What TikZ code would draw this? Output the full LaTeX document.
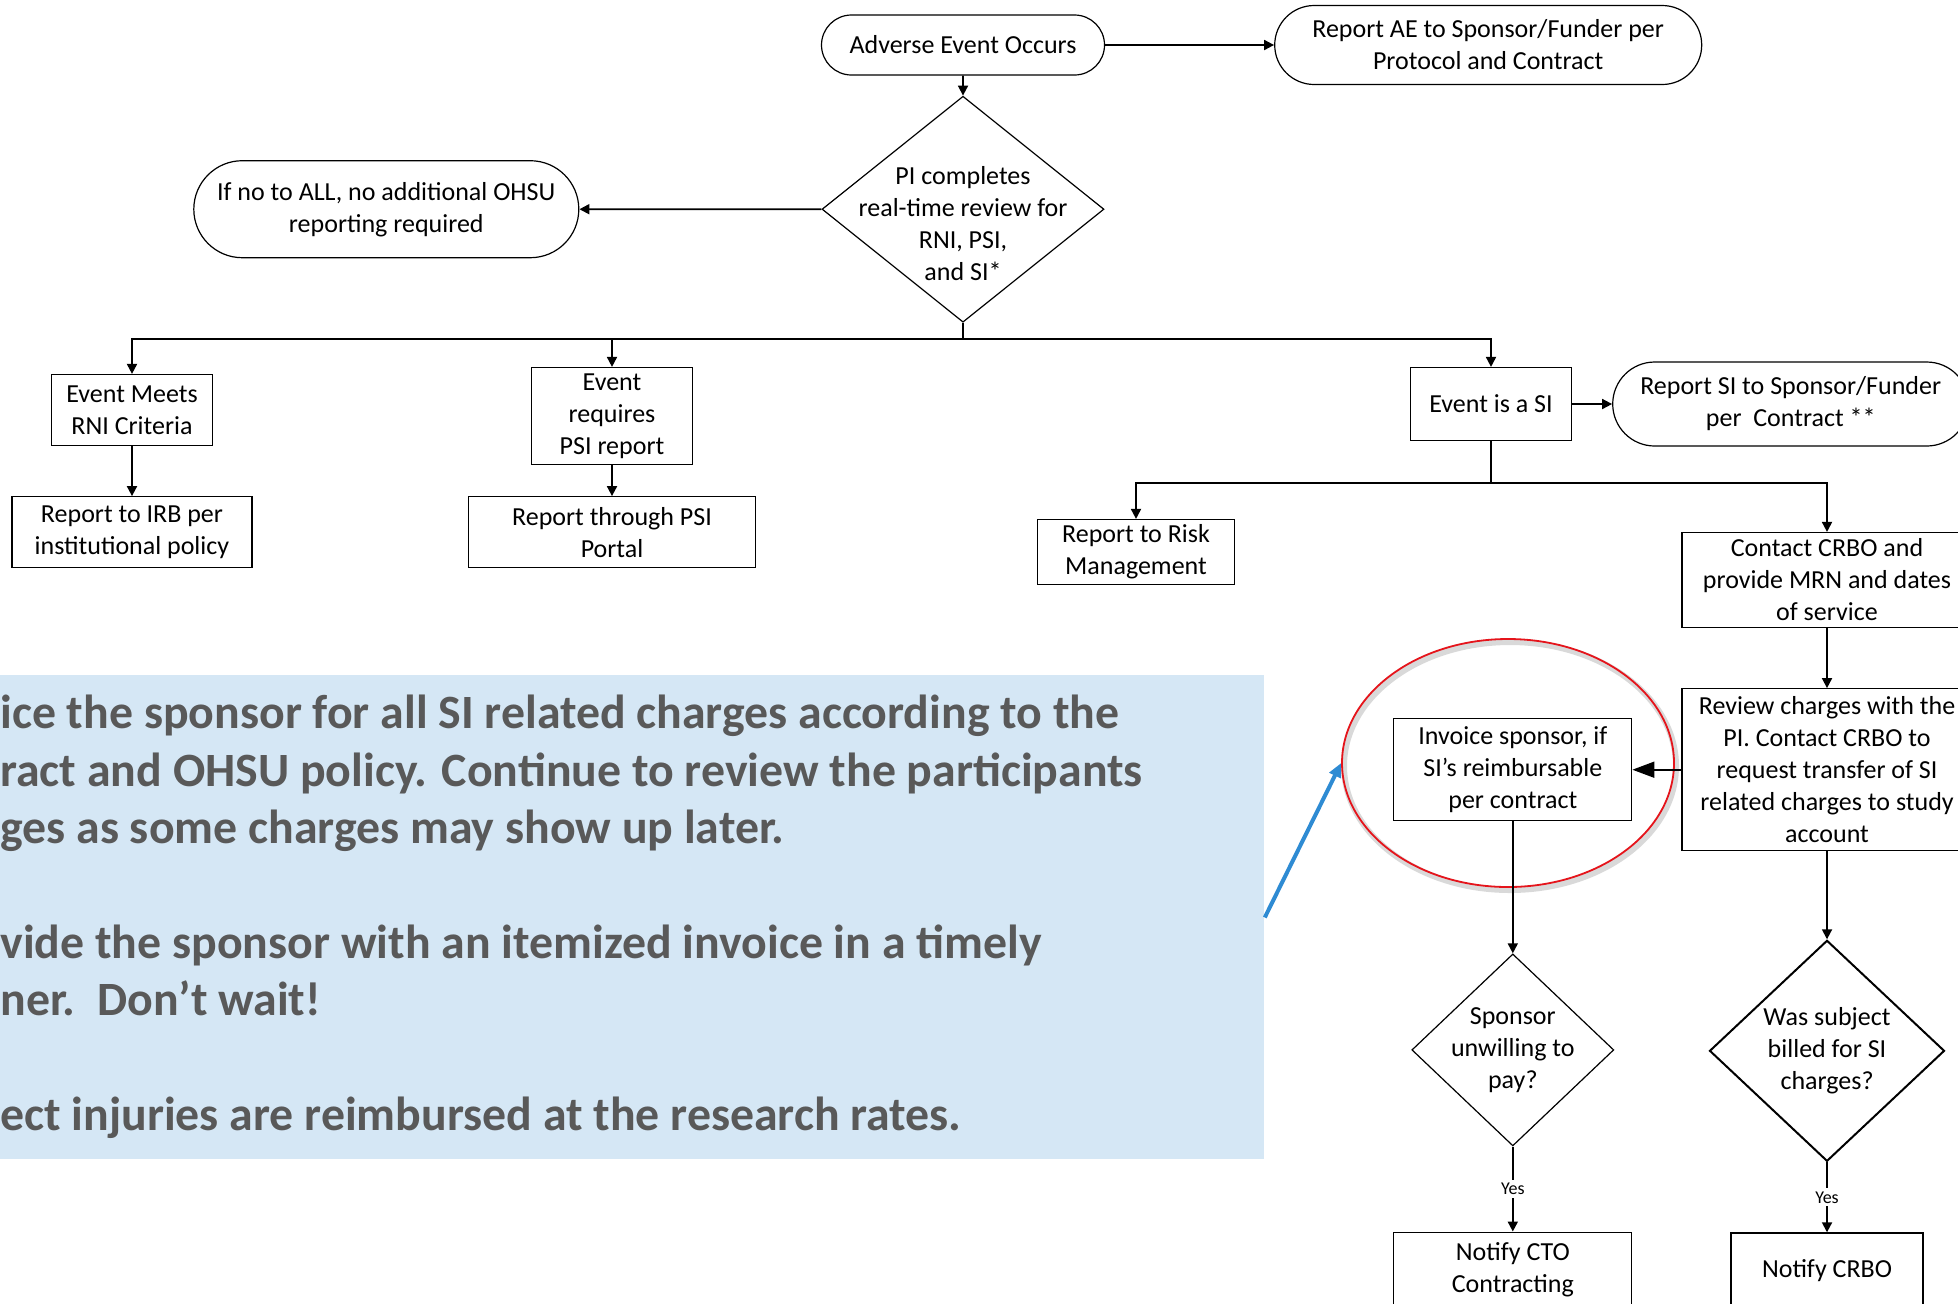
\documentclass[tikz,border=0pt]{standalone}
\usepackage{fontspec}
\setmainfont{Carlito}
\usepackage{tikz}
\usetikzlibrary{arrows.meta,positioning,shapes.geometric,shapes.misc}
\definecolor{note}{HTML}{D5E7F5}
\definecolor{notetext}{HTML}{595959}
\definecolor{ring}{HTML}{E5141B}
\definecolor{pointer}{HTML}{2E8BD3}

\begin{document}
\begin{tikzpicture}[x=0.5pt,y=-0.5pt,>={Triangle[length=5pt,width=5pt]},
 font=\fontsize{13}{16}\selectfont,
 box/.style={draw,line width=0.6pt,align=center,inner sep=1pt},
 term/.style={draw,line width=0.6pt,rounded rectangle,align=center,inner sep=1pt},
 dec/.style={draw,line width=0.6pt,diamond,inner sep=0pt},
 lab/.style={align=center,inner sep=0pt},
 ar/.style={->,line width=0.9pt},
 yes/.style={fill=white,font=\fontsize{9}{10}\selectfont,inner sep=1.5pt}]
 \useasboundingbox (0,0) rectangle (1958,1303);

 % note panel and its pointer
 \node[fill=note,anchor=north west,minimum width=632pt,minimum height=242pt,inner sep=0pt] (note) at (0,675) {};
 \node[anchor=north west,align=left,inner sep=0pt,text=notetext,font=\bfseries\fontsize{23.9}{28.7}\selectfont] (tip) at (0,695)
  {ice the sponsor for all SI related charges according to the\\
   ract and OHSU policy. Continue to review the participants\\
   ges as some charges may show up later.\\[28.7pt]
   vide the sponsor with an itemized invoice in a timely\\
   ner.~~Don’t wait!\\[28.7pt]
   ect injuries are reimbursed at the research rates.};

 % top of the flow
 \node[term,minimum width=143.5pt,minimum height=30pt] (ae) at (963,45) {Adverse Event Occurs};
 \node[term,minimum width=215.5pt,minimum height=39.5pt,right=84.5pt of ae] (aesp) {Report AE to Sponsor/Funder per\\Protocol and Contract};
 \node[dec,minimum width=141pt,minimum height=113pt,below=10pt of ae,
  label={[lab,yshift=-7pt]center:PI completes\\real-time review for\\RNI, PSI,\\and SI*}] (pi) {};
 \node[term,minimum width=194.5pt,minimum height=48.5pt,left=121pt of pi] (noall) {If no to ALL, no additional OHSU\\reporting required};

 % three branches
 \node[box,minimum width=80.5pt,minimum height=35.5pt] (rni) at (132,410) {Event Meets\\RNI Criteria};
 \node[box,minimum width=120pt,minimum height=35.5pt,below=25pt of rni] (irb) {Report to IRB per\\institutional policy};
 \node[box,minimum width=80.5pt,minimum height=48.5pt] (psi) at (612,416) {Event\\requires\\PSI report};
 \node[box,minimum width=143.5pt,minimum height=35.5pt,below=15.5pt of psi] (portal) {Report through PSI\\Portal};
 \node[box,minimum width=80.5pt,minimum height=36.5pt] (si) at (1491,404) {Event is a SI};
 \node[term,minimum width=180pt,minimum height=42pt,right=20pt of si] (sisp) {Report SI to Sponsor/Funder\\per~~Contract **};

 % SI path
 \node[box,minimum width=98.5pt,minimum height=32.5pt] (risk) at (1136,552) {Report to Risk\\Management};
 \node[box,minimum width=145pt,minimum height=47.5pt] (crbo) at (1827,580) {Contact CRBO and\\provide MRN and dates\\of service};
 \node[box,inner ysep=0pt,minimum width=145pt,minimum height=81pt,below=30pt of crbo] (review) {Review charges with the\\PI. Contact CRBO to\\request transfer of SI\\related charges to study\\account};
 \node[box,minimum width=119pt,minimum height=51pt,left=24.5pt of review] (invoice) {Invoice sponsor, if\\SI’s reimbursable\\per contract};
 \node[dec,minimum width=101pt,minimum height=96pt,below=66pt of invoice,
  label={[lab]center:Sponsor\\unwilling to\\pay?}] (unwill) {};
 \node[dec,line width=1pt,minimum width=117.5pt,minimum height=110.5pt,below=44pt of review,
  label={[lab]center:Was subject\\billed for SI\\charges?}] (billed) {};
 \node[box,anchor=north,minimum width=119pt,minimum height=38pt,below=42.5pt of unwill] (cto) {Notify CTO\\Contracting};
 \node[box,anchor=north,minimum width=96pt,minimum height=38pt,below=35pt of billed] (ncrbo) {Notify CRBO};

 % highlight ring
 \node[ellipse,draw=ring,line width=0.9pt,minimum width=166pt,minimum height=124pt,inner sep=0pt,
  preaction={draw=black!15,line width=3pt,transform canvas={shift={(1pt,-1.5pt)}}}] (hl) at (1508,763) {};

 \coordinate[below=8pt of pi.south] (bus);
 \coordinate[below=21pt of si.south] (bus2);

 \draw[ar] (ae) -- (aesp);
 \draw[ar] (ae) -- (pi);
 \draw[ar] (pi.west) -- (noall);
 \draw[ar] (pi.south) -- (bus) -| (rni);
 \draw[ar] (bus) -| (psi);
 \draw[ar] (bus) -| (si);
 \draw[ar] (rni) -- (irb);
 \draw[ar] (psi) -- (portal);
 \draw[ar] (si) -- (sisp);
 \draw[ar] (si.south) -- (bus2) -| (risk);
 \draw[ar] (bus2) -| (crbo);
 \draw[ar] (crbo) -- (review);
 \draw[line width=0.9pt,-{Triangle[length=11pt,width=8pt]}] (review) -- (invoice);
 \draw[ar] (invoice) -- (unwill);
 \draw[ar] (review) -- (billed);
 \draw[ar] (unwill) -- node[yes]{Yes} (cto);
 \draw[ar] (billed) -- node[yes]{Yes} (ncrbo);
 \draw[pointer,line width=2pt,-{Triangle[length=7pt,width=6pt]}] (note.east) -- (hl.west);
\end{tikzpicture}
\end{document}
